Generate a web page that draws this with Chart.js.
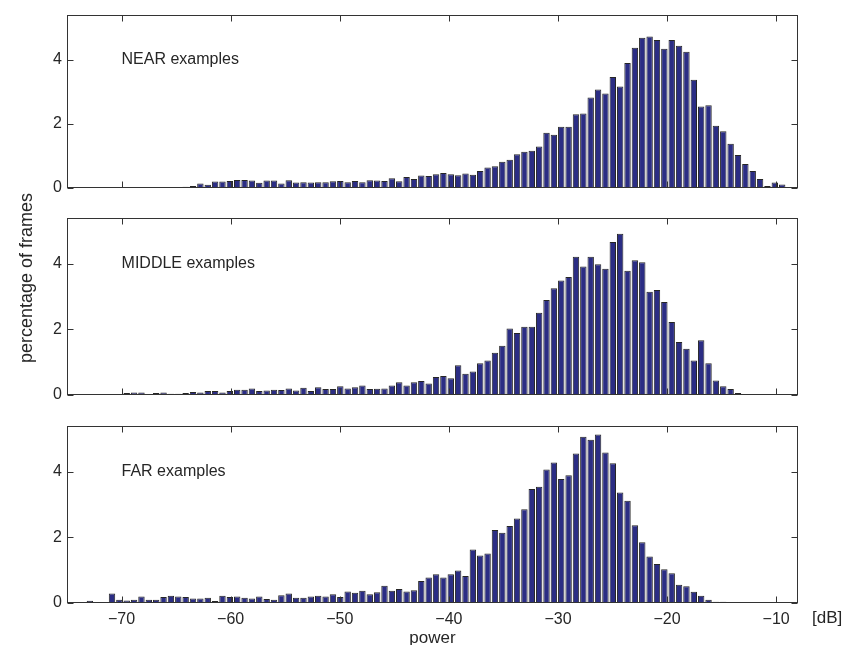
<!DOCTYPE html>
<html>
<head>
<meta charset="utf-8">
<script src="https://cdn.jsdelivr.net/npm/chart.js@4.4.1/dist/chart.umd.min.js"></script>
<style>
  html, body { margin: 0; padding: 0; background: #fff; }
  #wrap { position: relative; width: 845px; height: 645px; }
  #wrap canvas { position: absolute; left: 0; top: 0; }
</style>
</head>
<body>
<div id="wrap">
  <canvas id="near" width="845" height="645"></canvas>
  <canvas id="middle" width="845" height="645"></canvas>
  <canvas id="far" width="845" height="645"></canvas>
</div>
<script>
// histogram bins in dB: centre of the first bin and the bin width
const BIN_START = -74.25;
const BIN_WIDTH = 0.675;

// percentage of frames per power bin
const nearPct = [
  0, 0, 0, 0, 0, 0, 0, 0, 0, 0, 0, 0,
  0.02, 0.03, 0.03, 0.04, 0.06, 0.14, 0.10, 0.20, 0.20, 0.22,
  0.25, 0.25, 0.23, 0.16, 0.23, 0.23, 0.14, 0.24, 0.17, 0.18,
  0.17, 0.18, 0.18, 0.21, 0.22, 0.18, 0.22, 0.18, 0.24, 0.23,
  0.22, 0.30, 0.21, 0.34, 0.28, 0.39, 0.37, 0.43,
  0.47, 0.43, 0.40, 0.45, 0.41, 0.53, 0.64, 0.68, 0.82, 0.88,
  1.05, 1.13, 1.16, 1.29, 1.72, 1.66, 1.91, 1.91, 2.30, 2.32,
  2.82, 3.07, 2.94, 3.46, 3.16, 3.89, 4.37, 4.68, 4.72, 4.61,
  4.34, 4.61, 4.43, 4.24, 3.37, 2.54, 2.58, 1.94, 1.77, 1.38,
  1.03, 0.75, 0.53, 0.28, 0.06, 0.17, 0.11
];

const middlePct = [
  0.02, 0.01, 0.01, 0.01, 0.01, 0.01, 0.03, 0.06, 0.08, 0.08,
  0.02, 0.06, 0.08, 0.04, 0.04, 0.06, 0.09, 0.08, 0.12, 0.12,
  0.08, 0.12, 0.16, 0.16, 0.20, 0.12, 0.14, 0.16, 0.15, 0.20,
  0.14, 0.22, 0.12, 0.24, 0.18, 0.18, 0.27, 0.20, 0.24, 0.29,
  0.18, 0.19, 0.20, 0.29, 0.39, 0.29, 0.39, 0.43, 0.35, 0.55,
  0.58, 0.51, 0.91, 0.65, 0.72, 0.97, 1.05, 1.29, 1.50, 2.03,
  1.89, 2.08, 2.08, 2.51, 2.90, 3.26, 3.49, 3.60, 4.22, 3.92,
  4.22, 3.99, 3.85, 4.67, 4.92, 3.79, 4.11, 4.05, 3.15, 3.20,
  2.84, 2.23, 1.62, 1.41, 1.05, 1.67, 0.97, 0.44, 0.27, 0.18,
  0.06, 0.02, 0.01, 0.01, 0.01, 0.01, 0.01
];

const farPct = [
  0.02, 0, 0.07, 0, 0.03, 0.29, 0.10, 0.08, 0.10, 0.20,
  0.10, 0.10, 0.18, 0.22, 0.20, 0.18, 0.14, 0.14, 0.16, 0.06,
  0.22, 0.18, 0.20, 0.16, 0.14, 0.20, 0.12, 0.10, 0.24, 0.29,
  0.16, 0.16, 0.20, 0.22, 0.20, 0.27, 0.18, 0.35, 0.31, 0.37,
  0.27, 0.33, 0.53, 0.37, 0.43, 0.35, 0.39, 0.67, 0.78, 0.88,
  0.78, 0.88, 0.99, 0.82, 1.63, 1.45, 1.51, 2.23, 2.14, 2.35,
  2.58, 2.86, 3.48, 3.55, 4.07, 4.29, 3.78, 3.90, 4.56, 5.07,
  4.98, 5.14, 4.59, 4.26, 3.37, 3.12, 2.37, 1.85, 1.42, 1.19,
  1.03, 0.91, 0.56, 0.51, 0.34, 0.22, 0.10, 0.04, 0.04, 0,
  0, 0, 0, 0, 0, 0, 0
];

const xTicks = [-70, -60, -50, -40, -30, -20, -10];
const yTicks = [0, 2, 4];

const X_MIN = -75, X_MAX = -8;
const Y_MAX = 5.4;
const CAPTION_AT = { x: -70, y: 4 };

const FONT = '"Liberation Sans", Arial, Helvetica, sans-serif';
const TEXT = '#262626';
const AXIS = '#333333';
const BAR_FILL = '#2b2d84';
const BAR_EDGE = '#262626';
const TICK_LEN = 6;

Chart.defaults.font.family = FONT;
Chart.defaults.font.size = 16;
Chart.defaults.color = TEXT;

// MATLAB style box: full frame plus inward tick marks on all four sides
const boxAxes = {
  id: 'boxAxes',
  afterDatasetsDraw(chart, args, opts) {
    const { ctx, chartArea: a, scales: { x, y } } = chart;
    const L = Math.round(a.left) + 0.5, R = Math.round(a.right) - 0.5;
    const T = Math.round(a.top) + 0.5, B = Math.round(a.bottom) - 0.5;
    ctx.save();
    ctx.strokeStyle = AXIS;
    ctx.lineWidth = 1;
    ctx.beginPath();
    xTicks.forEach(v => {
      const px = Math.round(x.getPixelForValue(v)) + 0.5;
      ctx.moveTo(px, B); ctx.lineTo(px, B - TICK_LEN);
      ctx.moveTo(px, T); ctx.lineTo(px, T + TICK_LEN);
    });
    yTicks.forEach(v => {
      const py = Math.round(y.getPixelForValue(v)) + 0.5;
      ctx.moveTo(L, py); ctx.lineTo(L + TICK_LEN, py);
      ctx.moveTo(R, py); ctx.lineTo(R - TICK_LEN, py);
    });
    ctx.stroke();
    ctx.strokeRect(L, T, R - L, B - T);

    ctx.fillStyle = TEXT;
    ctx.font = '16px ' + FONT;
    ctx.textAlign = 'left';
    ctx.textBaseline = 'middle';
    ctx.fillText(opts.caption, x.getPixelForValue(CAPTION_AT.x), y.getPixelForValue(CAPTION_AT.y));
    ctx.restore();
  }
};

// shared axis titles of the figure, drawn once on the bottom chart
const figureLabels = {
  id: 'figureLabels',
  afterDraw(chart) {
    const { ctx, chartArea: a } = chart;
    ctx.save();
    ctx.fillStyle = TEXT;
    ctx.font = '17px ' + FONT;
    ctx.textAlign = 'center';
    ctx.textBaseline = 'alphabetic';
    ctx.fillText('power', (a.left + a.right) / 2, 643);
    ctx.textAlign = 'left';
    ctx.textBaseline = 'middle';
    ctx.fillText('[dB]', 812, 618.5);
    ctx.font = '18px ' + FONT;
    ctx.translate(27, 278);
    ctx.rotate(-Math.PI / 2);
    ctx.textAlign = 'center';
    ctx.fillText('percentage of frames', 0, 0);
    ctx.restore();
  }
};

const panels = [
  { id: 'near',   caption: 'NEAR examples',   values: nearPct,   top: 11,  bottom: 188, showX: false },
  { id: 'middle', caption: 'MIDDLE examples', values: middlePct, top: 218, bottom: 395, showX: false },
  { id: 'far',    caption: 'FAR examples',    values: farPct,    top: 426, bottom: 603, showX: true }
];

const minusSign = v => (v < 0 ? '\u2212' + Math.abs(v) : String(v));

panels.forEach(p => {
  const xh = p.showX ? 25 : 0;
  new Chart(document.getElementById(p.id), {
    type: 'bar',
    data: {
      datasets: [{
        data: p.values.map((v, i) => ({ x: BIN_START + i * BIN_WIDTH, y: v })),
        backgroundColor: BAR_FILL,
        borderColor: BAR_EDGE,
        borderWidth: 1,
        barPercentage: 0.87,
        categoryPercentage: 1
      }]
    },
    options: {
      responsive: false,
      animation: false,
      devicePixelRatio: 1,
      events: [],
      layout: { padding: { top: p.top, bottom: 645 - p.bottom - xh, left: 0, right: 47 } },
      plugins: {
        legend: { display: false },
        tooltip: { enabled: false },
        boxAxes: { caption: p.caption }
      },
      scales: {
        x: {
          type: 'linear',
          min: X_MIN,
          max: X_MAX,
          offset: false,
          grid: { display: false, drawTicks: false },
          border: { display: false },
          afterBuildTicks: s => { s.ticks = xTicks.map(v => ({ value: v })); },
          afterFit: s => { s.height = xh; },
          ticks: { display: p.showX, padding: 7, maxRotation: 0, autoSkip: false, callback: minusSign }
        },
        y: {
          min: 0,
          max: Y_MAX,
          grid: { display: false, drawTicks: false },
          border: { display: false },
          afterBuildTicks: s => { s.ticks = yTicks.map(v => ({ value: v })); },
          afterFit: s => { s.width = 67; },
          ticks: { padding: 5, callback: v => String(v) }
        }
      }
    },
    plugins: p.showX ? [boxAxes, figureLabels] : [boxAxes]
  });
});
</script>
</body>
</html>
